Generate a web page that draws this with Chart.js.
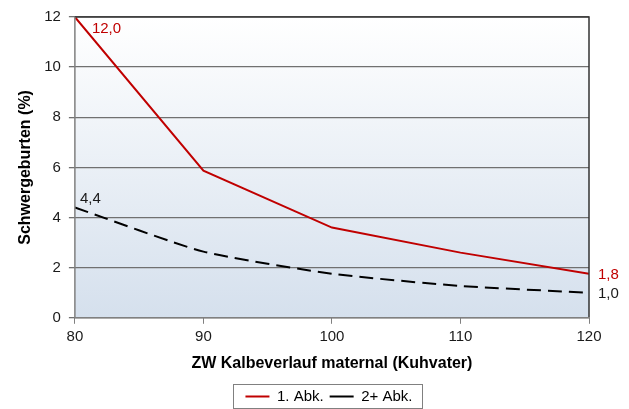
<!DOCTYPE html>
<html>
<head>
<meta charset="utf-8">
<script src="https://cdn.jsdelivr.net/npm/chart.js@4/dist/chart.umd.min.js"></script>
<style>
html,body{margin:0;padding:0;background:#fff;}
#wrap{width:629px;height:409px;position:relative;}
</style>
</head>
<body>
<div id="wrap"><canvas id="c" width="629" height="409"></canvas></div>
<script>
const xValues = [80, 90, 100, 110, 120];
const firstCalving = [12.0, 5.87, 3.6, 2.6, 1.76];
const laterCalving = [4.4, 2.64, 1.76, 1.27, 1.0];
const seriesNames = ['1. Abk.', '2+ Abk.'];
const xTicks = [80, 90, 100, 110, 120];
const yTicks = [0, 2, 4, 6, 8, 10, 12];
const xTitle = 'ZW Kalbeverlauf maternal (Kuhvater)';
const yTitle = 'Schwergeburten (%)';

const FONT = "'Liberation Sans', Arial, sans-serif";
const LEGEND_DX = -3;
const LEGEND_DY = 5;

const bgPlugin = {
  id: 'bg',
  beforeDraw(chart) {
    const {ctx, chartArea: a} = chart;
    const g = ctx.createLinearGradient(0, a.top, 0, a.bottom);
    g.addColorStop(0, '#ffffff');
    g.addColorStop(1, '#d5e0ed');
    ctx.save();
    ctx.fillStyle = g;
    ctx.fillRect(a.left, a.top, a.right - a.left, a.bottom - a.top);
    ctx.restore();
  },
  afterDatasetsDraw(chart) {
    const {ctx, chartArea: a} = chart;
    ctx.save();
    ctx.strokeStyle = '#333333';
    ctx.lineWidth = 1.5;
    ctx.beginPath();
    ctx.moveTo(a.left, a.top);
    ctx.lineTo(a.right, a.top);
    ctx.lineTo(a.right, a.bottom);
    ctx.stroke();
    ctx.strokeStyle = '#808080';
    ctx.beginPath();
    ctx.moveTo(a.left, a.top);
    ctx.lineTo(a.left, a.bottom);
    ctx.lineTo(a.right, a.bottom);
    ctx.stroke();
    ctx.restore();
  }
};

const labelPlugin = {
  id: 'vlabels',
  afterDraw(chart) {
    const {ctx} = chart;
    const xs = chart.scales.x, ys = chart.scales.y;
    const fmt = v => v.toFixed(1).replace('.', ',');
    const items = [
      {ds: 0, i: 0, dx: 17, dy: 12, color: '#c00000'},
      {ds: 1, i: 0, dx: 5, dy: -9, color: '#1a1a1a'},
      {ds: 0, i: xValues.length - 1, dx: 9, dy: 1, color: '#c00000'},
      {ds: 1, i: xValues.length - 1, dx: 9, dy: 1, color: '#1a1a1a'}
    ];
    ctx.save();
    ctx.font = '15px ' + FONT;
    ctx.textAlign = 'left';
    ctx.textBaseline = 'middle';
    items.forEach(it => {
      const d = chart.data.datasets[it.ds].data[it.i];
      const px = xs.getPixelForValue(d.x) + it.dx;
      const py = ys.getPixelForValue(d.y) + it.dy;
      ctx.fillStyle = it.color;
      ctx.fillText(fmt(d.y), px, py);
    });
    ctx.restore();
  }
};

const legendShift = {
  id: 'legendShift',
  afterLayout(chart) {
    const l = chart.legend;
    if (!l) return;
    l.left += LEGEND_DX;
    l.right += LEGEND_DX;
    l.top += LEGEND_DY;
    l.bottom += LEGEND_DY;
  },
  afterDraw(chart) {
    const l = chart.legend;
    if (!l || !l.legendHitBoxes || !l.legendHitBoxes.length) return;
    const hb = l.legendHitBoxes;
    const first = hb[0], last = hb[hb.length - 1];
    const {ctx} = chart;
    const x0 = Math.round(first.left - 12);
    const x1 = Math.round(last.left + last.width + 10);
    const y0 = Math.round(first.top - 5);
    const y1 = Math.round(first.top + first.height + 4);
    ctx.save();
    ctx.strokeStyle = '#808080';
    ctx.lineWidth = 1;
    ctx.strokeRect(x0 + 0.5, y0 + 0.5, x1 - x0, y1 - y0);
    ctx.restore();
  }
};

new Chart(document.getElementById('c'), {
  type: 'line',
  data: {
    datasets: [
      {
        label: seriesNames[0],
        data: xValues.map((x, i) => ({x, y: firstCalving[i]})),
        borderColor: '#c00000',
        backgroundColor: '#c00000',
        borderWidth: 2,
        pointRadius: 0,
        tension: 0,
        fill: false
      },
      {
        label: seriesNames[1],
        data: xValues.map((x, i) => ({x, y: laterCalving[i]})),
        borderColor: '#000000',
        backgroundColor: '#000000',
        borderWidth: 2,
        borderDash: [14, 7],
        pointRadius: 0,
        tension: 0.2,
        fill: false
      }
    ]
  },
  options: {
    responsive: false,
    animation: false,
    devicePixelRatio: 1,
    layout: {padding: {left: 16, right: 40, top: 16, bottom: 0}},
    plugins: {
      tooltip: {enabled: false},
      legend: {
        position: 'bottom',
        fullSize: false,
        labels: {
          usePointStyle: true,
          pointStyle: 'line',
          pointStyleWidth: 24,
          boxHeight: 6,
          padding: 6,
          color: '#000',
          font: {family: FONT, size: 15}
        }
      }
    },
    scales: {
      x: {
        type: 'linear',
        min: xTicks[0],
        max: xTicks[xTicks.length - 1],
        afterBuildTicks(s) { s.ticks = xTicks.map(v => ({value: v})); },
        grid: {display: true, drawOnChartArea: false, drawTicks: true, tickLength: 6, color: '#808080'},
        border: {display: false},
        ticks: {color: '#1a1a1a', font: {family: FONT, size: 15}, padding: 4, maxRotation: 0},
        title: {display: true, text: xTitle, color: '#000', font: {family: FONT, size: 16, weight: 'bold'}, padding: {top: 4, bottom: 5}}
      },
      y: {
        min: 0,
        max: 12,
        afterBuildTicks(s) { s.ticks = yTicks.map(v => ({value: v})); },
        grid: {display: true, drawOnChartArea: true, drawTicks: true, tickLength: 6, color: '#707070', lineWidth: 1.3},
        border: {display: false},
        ticks: {color: '#1a1a1a', font: {family: FONT, size: 15}, padding: 8},
        title: {display: true, text: yTitle, color: '#000', font: {family: FONT, size: 16, weight: 'bold'}, padding: {top: 0, bottom: 1}}
      }
    }
  },
  plugins: [bgPlugin, labelPlugin, legendShift]
});
</script>
</body>
</html>
